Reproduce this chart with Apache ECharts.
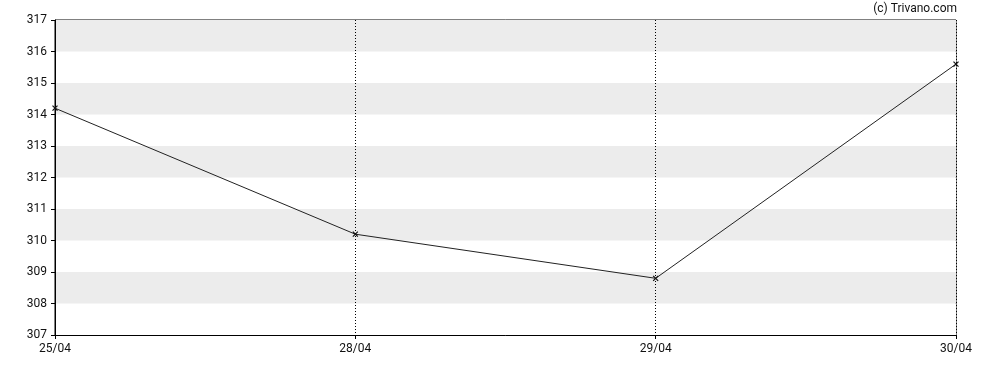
<!DOCTYPE html>
<html><head><meta charset="utf-8">
<script src="https://cdn.jsdelivr.net/npm/echarts@6/dist/echarts.min.js"></script>
<style>html,body{margin:0;padding:0;background:#fff}#c{width:988px;height:370px}</style>
</head><body><div id="c"></div>
<script>
const categories = ['25/04', '28/04', '29/04', '30/04'];
const values = [314.2, 310.2, 308.8, 315.6];
const yMin = 307, yMax = 317, yStep = 1;

const chart = echarts.init(document.getElementById('c'), null, {renderer: 'canvas'});
chart.setOption({
  animation: false,
  backgroundColor: '#fff',
  textStyle: {fontFamily: 'Roboto'},
  graphic: [{
    type: 'text', right: 31, top: 3,
    style: {text: '(c) Trivano.com', fill: '#111', font: '12px Roboto', textAlign: 'right'}
  }],
  grid: {left: 55, right: 32, top: 20, bottom: 35, show: true, borderColor: '#000', borderWidth: 1, backgroundColor: 'transparent'},
  xAxis: {
    type: 'category', data: categories, boundaryGap: false,
    axisLine: {lineStyle: {color: '#000', width: 1}},
    axisTick: {show: true, length: 4, lineStyle: {color: '#000'}, alignWithLabel: true},
    axisLabel: {color: '#111', fontSize: 12, margin: 8},
    splitLine: {show: true, lineStyle: {color: '#000', type: [1, 2], width: 1}}
  },
  yAxis: {
    type: 'value', min: yMin, max: yMax, interval: yStep,
    axisLine: {show: true, lineStyle: {color: '#000', width: 1}},
    axisTick: {show: true, length: 4, lineStyle: {color: '#000'}},
    axisLabel: {color: '#111', fontSize: 12, margin: 8},
    splitLine: {show: false},
    splitArea: {show: true, areaStyle: {color: ['#ffffff', '#ececec']}}
  },
  series: [{
    type: 'line', data: values,
    lineStyle: {color: '#222', width: 1},
    symbol: 'path://M0,0L10,10M10,0L0,10', symbolSize: 5,
    itemStyle: {color: 'none', borderColor: '#111', borderWidth: 1.2},
    showSymbol: true
  }]
});
</script></body></html>
